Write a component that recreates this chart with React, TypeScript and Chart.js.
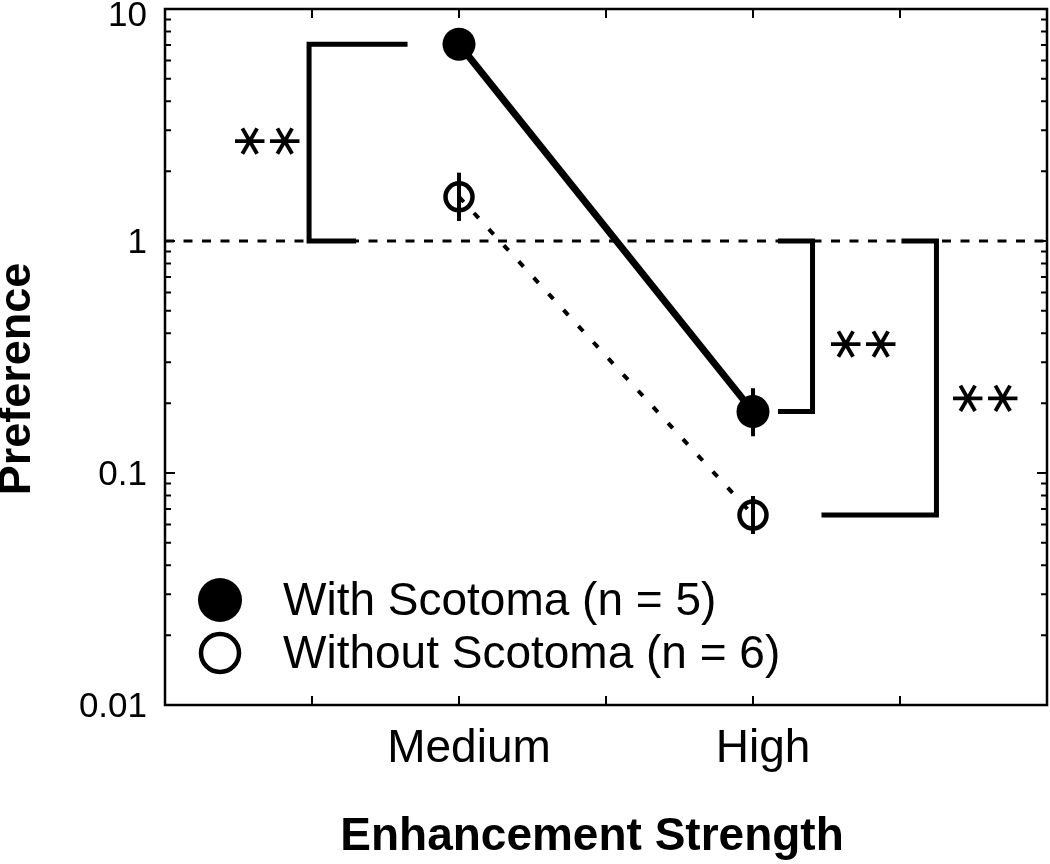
import React, { useEffect, useRef } from 'react';
import { Chart, registerables } from 'chart.js';

Chart.register(...registerables);

// ---------- data ----------
const categories = ['Medium', 'High'];
const categoryX = [2, 4];
const xTickValues = [1, 2, 3, 4, 5];
const xTickLabels = ['', 'Medium', '', 'High', ''];

const withScotoma = [7.05, 0.184];
const withLow = [6.6, 0.144];
const withHigh = [7.5, 0.232];

const withoutScotoma = [1.55, 0.0659];
const withoutLow = [1.22, 0.0546];
const withoutHigh = [1.97, 0.0796];

const yMajorTicks = [0.01, 0.1, 1, 10];
const yTickLabels = ['0.01', '0.1', '1', '10'];
const yMinorMultipliers = [2, 3, 4, 5, 6, 7, 8, 9];

const legendLabels = ['With Scotoma (n = 5)', 'Without Scotoma (n = 6)'];
const xAxisTitle = 'Enhancement Strength';
const yAxisTitle = 'Preference';

const referenceY = 1;
const xRange = [0, 6];

// significance brackets (axis units)
const bracket1X = [1.65, 0.98, 0.98, 1.3];
const bracket1Y = [7.05, 7.05, 1, 1];
const bracket2X = [4.17, 4.405, 4.405, 4.17];
const bracket2Y = [1, 1, 0.184, 0.184];
const bracket3X = [5.01, 5.248, 5.248, 4.466];
const bracket3Y = [1, 1, 0.0659, 0.0659];

const starX = [0.68, 4.73, 5.56];
const starY = [2.7, 0.36, 0.21];
const starText = '∗';

const FONT = '"Liberation Sans", Arial, Helvetica, sans-serif';

const toXY = (xs: number[], ys: number[]) => xs.map((x, i) => ({ x, y: ys[i] }));
const isTop = (v: number) => Math.abs(v - yMajorTicks[yMajorTicks.length - 1]) < 1e-9;

const overlayPlugin = {
  id: 'overlay',
  afterDatasetsDraw(chart: any) {
    const { ctx, scales } = chart;
    const xs = scales.x;
    const ys = scales.y;
    ctx.save();
    ctx.strokeStyle = '#000';
    ctx.lineWidth = 4;
    ctx.lineCap = 'butt';
    const series = [
      [withLow, withHigh],
      [withoutLow, withoutHigh],
    ];
    series.forEach(([lo, hi]) => {
      categoryX.forEach((cx, i) => {
        const px = xs.getPixelForValue(cx);
        ctx.beginPath();
        ctx.moveTo(px, ys.getPixelForValue(lo[i]));
        ctx.lineTo(px, ys.getPixelForValue(hi[i]));
        ctx.stroke();
      });
    });
    ctx.restore();
  },
  afterDraw(chart: any) {
    const { ctx, chartArea, scales } = chart;
    const xs = scales.x;
    const ys = scales.y;
    const { left, right, top, bottom } = chartArea;
    ctx.save();
    ctx.strokeStyle = '#000';
    ctx.fillStyle = '#000';

    // axis box
    ctx.lineWidth = 2.5;
    ctx.strokeRect(left, top, right - left, bottom - top);

    // y ticks (inward, both sides)
    ctx.lineWidth = 2;
    ys.ticks.forEach((t: any) => {
      const py = ys.getPixelForValue(t.value);
      const major = yMajorTicks.some((m) => Math.abs(Math.log10(m) - Math.log10(t.value)) < 1e-6);
      const len = major ? 10 : 6;
      ctx.beginPath();
      ctx.moveTo(left, py);
      ctx.lineTo(left + len, py);
      ctx.moveTo(right, py);
      ctx.lineTo(right - len, py);
      ctx.stroke();
    });
    // x ticks (inward, bottom and top)
    xs.ticks.forEach((t: any) => {
      const px = xs.getPixelForValue(t.value);
      ctx.beginPath();
      ctx.moveTo(px, bottom);
      ctx.lineTo(px, bottom - 9);
      ctx.moveTo(px, top);
      ctx.lineTo(px, top + 9);
      ctx.stroke();
    });

    // significance stars
    ctx.font = `47px "DejaVu Sans", sans-serif`;
    ctx.textAlign = 'center';
    ctx.textBaseline = 'middle';
    starX.forEach((sx, i) => {
      const px = xs.getPixelForValue(sx);
      const py = ys.getPixelForValue(starY[i]);
      [-17.5, 17.5].forEach((dx) => {
        ctx.save();
        ctx.translate(px + dx, py);
        ctx.rotate(Math.PI / 2);
        ctx.fillText(starText, 0, 0);
        ctx.restore();
      });
    });

    // legend
    const legX = 220;
    const legY = [600, 653];
    ctx.beginPath();
    ctx.arc(legX, legY[0], 22, 0, Math.PI * 2);
    ctx.fill();
    ctx.beginPath();
    ctx.lineWidth = 4.5;
    ctx.arc(legX, legY[1], 19, 0, Math.PI * 2);
    ctx.stroke();
    ctx.font = `46px ${FONT}`;
    ctx.textAlign = 'left';
    ctx.textBaseline = 'middle';
    legendLabels.forEach((lab, i) => ctx.fillText(lab, 283, legY[i] + 2));

    // axis titles
    ctx.font = `bold 46px ${FONT}`;
    ctx.textAlign = 'center';
    ctx.fillText(xAxisTitle, 592, 837);
    ctx.save();
    ctx.translate(18, 379);
    ctx.rotate(-Math.PI / 2);
    ctx.font = `bold 45px ${FONT}`;
    ctx.fillText(yAxisTitle, 0, 0);
    ctx.restore();

    ctx.restore();
  },
};

export default function App() {
  const canvasRef = useRef<HTMLCanvasElement | null>(null);

  useEffect(() => {
    const canvas = canvasRef.current;
    if (!canvas) return;

    const bracketStyle = {
      borderColor: '#000',
      borderWidth: 5,
      pointRadius: 0,
      borderJoinStyle: 'miter' as const,
      borderCapStyle: 'butt' as const,
      order: 5,
      tension: 0,
    };

    const chart = new Chart(canvas, {
      type: 'line',
      data: {
        datasets: [
          {
            label: legendLabels[0],
            data: toXY(categoryX, withScotoma),
            borderColor: '#000',
            borderWidth: 7,
            pointRadius: 16.5,
            pointBackgroundColor: '#000',
            pointBorderColor: '#000',
            pointBorderWidth: 0,
            order: 1,
            tension: 0,
          },
          {
            label: legendLabels[1],
            data: toXY(categoryX, withoutScotoma),
            borderColor: '#000',
            borderWidth: 4,
            borderDash: [7, 15],
            pointRadius: 13.5,
            pointBackgroundColor: 'rgba(0,0,0,0)',
            pointBorderColor: '#000',
            pointBorderWidth: 4.5,
            order: 2,
            tension: 0,
          },
          {
            label: 'reference',
            data: toXY(xRange, [referenceY, referenceY]),
            borderColor: '#000',
            borderWidth: 3,
            borderDash: [9, 9.5],
            pointRadius: 0,
            order: 10,
          },
          { label: 'b1', data: toXY(bracket1X, bracket1Y), ...bracketStyle },
          { label: 'b2', data: toXY(bracket2X, bracket2Y), ...bracketStyle },
          { label: 'b3', data: toXY(bracket3X, bracket3Y), ...bracketStyle },
        ],
      },
      options: {
        animation: false,
        responsive: false,
        devicePixelRatio: 1,
        events: [],
        layout: { autoPadding: false, padding: { top: 9, right: 3, left: 0, bottom: 0 } },
        plugins: {
          legend: { display: false },
          tooltip: { enabled: false },
        },
        scales: {
          x: {
            type: 'linear',
            min: xRange[0],
            max: xRange[1],
            grid: { display: false, drawTicks: false },
            border: { display: false },
            afterBuildTicks: (scale: any) => {
              scale.ticks = xTickValues.map((v) => ({ value: v }));
            },
            afterFit: (scale: any) => {
              scale.height = 159;
              scale.paddingLeft = 0;
              scale.paddingRight = 0;
            },
            ticks: {
              autoSkip: false,
              maxRotation: 0,
              padding: 17,
              labelOffset: 10,
              color: '#000',
              font: { family: FONT, size: 46 },
              callback: (v: any) => {
                const i = xTickValues.indexOf(Number(v));
                return i >= 0 ? xTickLabels[i] : '';
              },
            },
          },
          y: {
            type: 'logarithmic',
            min: yMajorTicks[0],
            max: yMajorTicks[yMajorTicks.length - 1],
            grid: { display: false, drawTicks: false },
            border: { display: false },
            afterBuildTicks: (scale: any) => {
              const ticks: { value: number }[] = [];
              yMajorTicks.forEach((m, idx) => {
                ticks.push({ value: m });
                if (idx < yMajorTicks.length - 1) {
                  yMinorMultipliers.forEach((k) => ticks.push({ value: m * k }));
                }
              });
              scale.ticks = ticks;
            },
            afterFit: (scale: any) => {
              scale.width = 165;
              scale.paddingTop = 0;
              scale.paddingBottom = 0;
            },
            ticks: {
              autoSkip: false,
              padding: 18,
              labelOffset: 2,
              color: '#000',
              // the top label sits a little lower so it is not cut at the canvas edge
              font: (c: any) =>
                c.tick && isTop(c.tick.value)
                  ? { family: FONT, size: 35, lineHeight: '10px' }
                  : { family: FONT, size: 35 },
              callback: (v: any) => {
                const i = yMajorTicks.findIndex((m) => Math.abs(Math.log10(m) - Math.log10(Number(v))) < 1e-6);
                if (i < 0) return '';
                return isTop(Number(v)) ? ['', yTickLabels[i]] : yTickLabels[i];
              },
            },
          },
        },
      },
      plugins: [overlayPlugin],
    });

    return () => chart.destroy();
  }, []);

  return (
    <div style={{ position: 'absolute', left: 0, top: 0, width: 1050, height: 864, background: '#fff' }}>
      <canvas ref={canvasRef} width={1050} height={864} style={{ display: 'block' }} data-categories={categories.join(',')} />
    </div>
  );
}
